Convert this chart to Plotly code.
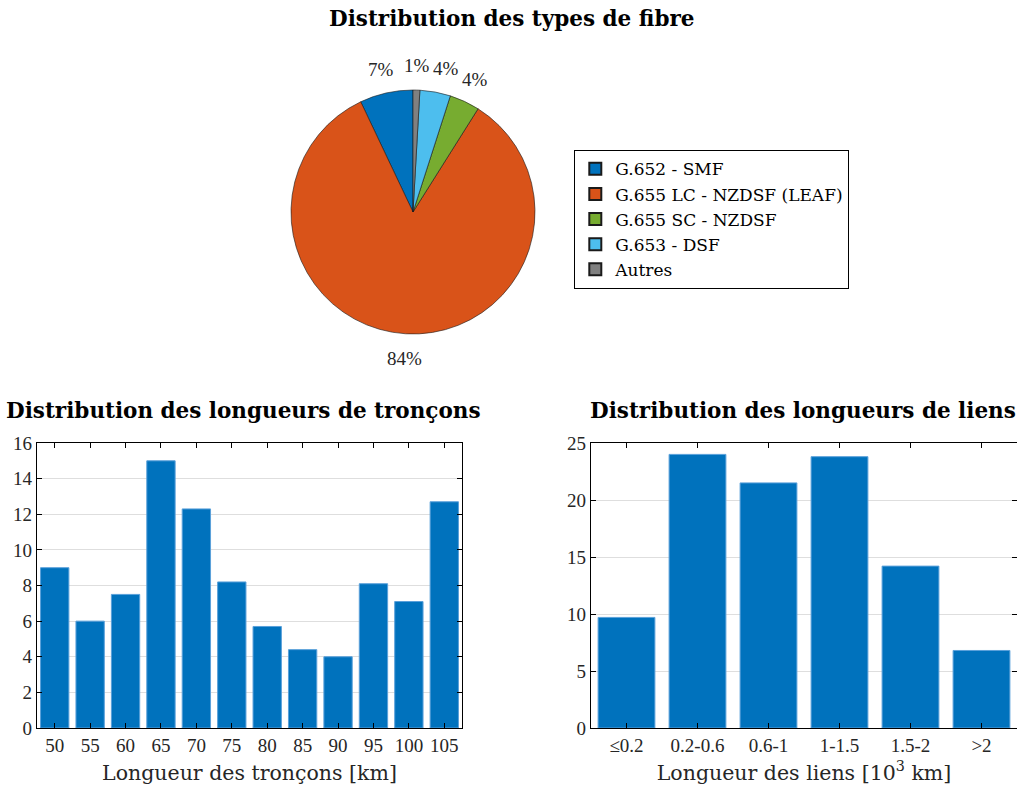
import math
import plotly.graph_objects as go

# ---- data ----
fibre_types = ["G.652 - SMF", "G.655 LC - NZDSF (LEAF)", "G.655 SC - NZDSF", "G.653 - DSF", "Autres"]
fibre_share = [7.05, 84.0, 4.0, 4.05, 0.9]
fibre_labels = ["7%", "84%", "4%", "4%", "1%"]
fibre_colors = ["#0072BD", "#D95319", "#77AC30", "#4DBEEE", "#808080"]

troncon_cats = ["50", "55", "60", "65", "70", "75", "80", "85", "90", "95", "100", "105"]
troncon_vals = [9.0, 6.0, 7.5, 15.0, 12.3, 8.2, 5.7, 4.4, 4.0, 8.1, 7.1, 12.7]

lien_cats = ["≤0.2", "0.2-0.6", "0.6-1", "1-1.5", "1.5-2", ">2"]
lien_vals = [9.7, 24.0, 21.5, 23.8, 14.2, 6.8]

NUMF = "Liberation Serif"
TXTF = "DejaVu Serif"
W, H = 1017, 790
BAR = "#0072BD"

def px_x(x):
    return x / W

def px_y(y):
    return 1 - y / H

# pie geometry (pixels)
PCX, PCY, PR = 413, 212, 122
total = sum(fibre_share)
first_rot = -360.0 * fibre_share[0] / total  # first slice ends at 12 o'clock

fig = go.Figure()

fig.add_trace(go.Pie(
    labels=fibre_types, values=fibre_share,
    textinfo="none", sort=False,
    direction="counterclockwise", rotation=first_rot,
    marker=dict(colors=fibre_colors, line=dict(color="#1a1a1a", width=0.6)),
    domain=dict(x=[px_x(PCX - PR), px_x(PCX + PR)], y=[px_y(PCY + PR), px_y(PCY - PR)]),
    showlegend=True, hoverinfo="label+percent",
))

fig.add_trace(go.Bar(
    x=list(range(len(troncon_cats))), y=troncon_vals, width=0.8,
    marker=dict(color=BAR, line=dict(color="#5AA0DA", width=1)),
    xaxis="x", yaxis="y", showlegend=False,
))
fig.add_trace(go.Bar(
    x=list(range(len(lien_cats))), y=lien_vals, width=0.8,
    marker=dict(color=BAR, line=dict(color="#5AA0DA", width=1)),
    xaxis="x2", yaxis="y2", showlegend=False,
))

axis_common = dict(
    showline=True, linecolor="#000000", linewidth=1.3, mirror="allticks",
    ticks="inside", ticklen=5, tickcolor="#000000", tickwidth=1.3,
    tickfont=dict(family=NUMF, size=19, color="#262626"), zeroline=False,
    automargin=False,
)

# pie percentage labels at 1.2 R along each slice's mid-angle (counterclockwise from 12 o'clock)
label_pos = []
cum = 0.0
for v, lab in zip(fibre_share, fibre_labels):
    a0 = cum
    a1 = cum - 360.0 * v / total
    mid = math.radians((a0 + a1) / 2.0)
    cum = a1
    lx = PCX + 1.2 * PR * math.sin(mid)
    ly = PCY - 1.2 * PR * math.cos(mid)
    label_pos.append([lx, ly, lab])

# simple overlap avoidance for labels on the same row (push to the right)
order = sorted(range(len(label_pos)), key=lambda i: label_pos[i][0])
for k in range(1, len(order)):
    p = label_pos[order[k - 1]]
    c = label_pos[order[k]]
    wp = 12.5 * len(p[2])
    wc = 12.5 * len(c[2])
    if abs(c[1] - p[1]) < 16:
        min_x = p[0] + wp / 2 + wc / 2 + 4
        if c[0] < min_x:
            c[0] = min_x

annotations = []
for lx, ly, lab in label_pos:
    annotations.append(dict(
        text=lab, x=px_x(lx), y=px_y(ly), xref="paper", yref="paper",
        showarrow=False, xanchor="center", yanchor="middle",
        font=dict(family=NUMF, size=19, color="#262626"),
    ))

title_font = dict(family=TXTF, size=21.5, color="#000000")
annotations += [
    dict(text="<b>Distribution des types de fibre</b>", x=px_x(511), y=px_y(18),
         xref="paper", yref="paper", showarrow=False, xanchor="center", yanchor="middle",
         font=title_font),
    dict(text="<b>Distribution des longueurs de tronçons</b>", x=px_x(243), y=px_y(410),
         xref="paper", yref="paper", showarrow=False, xanchor="center", yanchor="middle",
         font=title_font),
    dict(text="<b>Distribution des longueurs de liens</b>", x=px_x(803), y=px_y(410),
         xref="paper", yref="paper", showarrow=False, xanchor="center", yanchor="middle",
         font=title_font),
]

axis_title_font = dict(family=TXTF, size=20.5, color="#262626")

fig.update_layout(
    width=W, height=H, margin=dict(l=0, r=0, t=0, b=0, autoexpand=False),
    paper_bgcolor="white", plot_bgcolor="white",
    font=dict(family=TXTF, color="#000000"),
    legend=dict(
        x=px_x(574), y=px_y(150), xanchor="left", yanchor="top",
        bordercolor="#000000", borderwidth=1.3, bgcolor="white",
        font=dict(family=TXTF, size=17, color="#000000"),
        itemsizing="constant", tracegroupgap=0,
    ),
    xaxis=dict(
        domain=[px_x(37), px_x(462)], anchor="y", range=[-0.5, 11.5],
        tickmode="array", tickvals=list(range(len(troncon_cats))), ticktext=troncon_cats,
        showgrid=False,
        title=dict(text="Longueur des tronçons [km]", font=axis_title_font, standoff=10),
        **axis_common,
    ),
    yaxis=dict(
        domain=[px_y(728), px_y(443)], anchor="x", range=[0, 16], dtick=2,
        showgrid=True, gridcolor="#DEDEDE", gridwidth=1.2,
        **axis_common,
    ),
    xaxis2=dict(
        domain=[px_x(591), 1.0], anchor="y2", range=[-0.5, 5.5],
        tickmode="array", tickvals=list(range(len(lien_cats))), ticktext=lien_cats,
        showgrid=False,
        title=dict(text="Longueur des liens [10<sup>3</sup> km]", font=axis_title_font, standoff=10),
        **axis_common,
    ),
    yaxis2=dict(
        domain=[px_y(728), px_y(443)], anchor="x2", range=[0, 25], dtick=5,
        showgrid=True, gridcolor="#DEDEDE", gridwidth=1.2,
        **axis_common,
    ),
    annotations=annotations,
)

fig.write_html(
    "out.html",
    config={"displayModeBar": False},
    post_script="document.body.style.margin='0';document.body.style.padding='0';",
)
